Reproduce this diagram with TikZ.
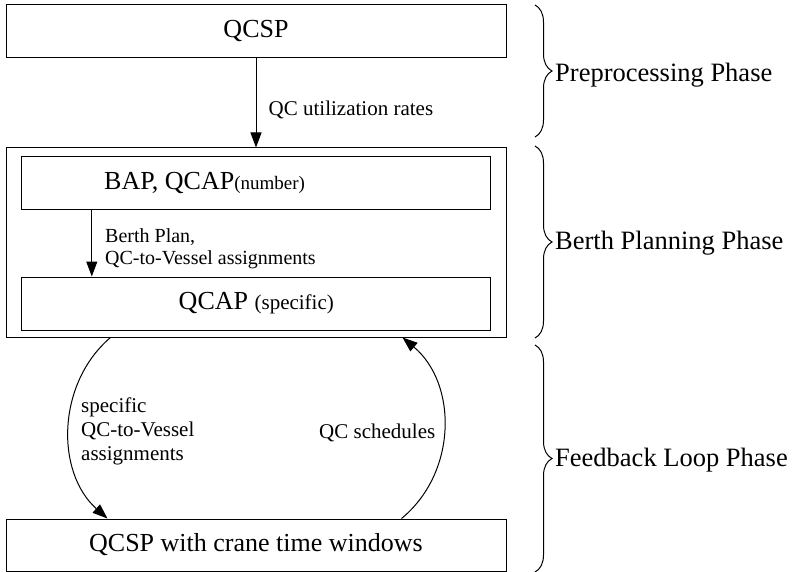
\documentclass[tikz,border=0pt]{standalone}
\usepackage{fontspec}
\setmainfont{Liberation Serif}
\usetikzlibrary{arrows.meta,decorations.pathreplacing}

\tikzset{
  box/.style={draw, line width=1pt, rectangle, inner sep=0pt, anchor=center,
              font=\fontsize{26}{30}\selectfont},
  flow/.style={line width=1pt, -{Triangle[length=15pt,width=11pt]}},
  lbl/.style={font=\fontsize{21}{24}\selectfont, inner sep=0pt, align=left},
  phase/.style={font=\fontsize{26.5}{30}\selectfont, inner sep=0pt, anchor=west},
  bracket/.style={line width=1pt, decorate,
                  decoration={brace, amplitude=17pt, aspect=0.5}},
}

\begin{document}
\begin{tikzpicture}[x=1pt, y=-1pt]
  \useasboundingbox (0,0) rectangle (794,572);

  % process boxes
  \node[box, minimum width=500pt, minimum height=53pt] (qcsp) at (256,31.5) {QCSP};
  \node[box, minimum width=500pt, minimum height=189pt] (berth) at (256,242.5) {};
  \node[box, minimum width=469pt, minimum height=52pt] (bap) at (256.3,183) {};
  \node[box, minimum width=469pt, minimum height=53pt] (qcap) at (256.3,303.5)
       {QCAP {\fontsize{21}{24}\selectfont(specific)}};
  \node[box, minimum width=500pt, minimum height=52pt] (qcspw) at (256,545)
       {QCSP with crane time windows};
  \node[font=\fontsize{26}{30}\selectfont, inner sep=0pt, anchor=west] (baptxt)
       at (104,183) {BAP, QCAP{\fontsize{19}{22}\selectfont(number)}};

  % connectors
  \draw[flow] (qcsp.south) -- (berth.north);
  \draw[flow] ([xshift=70.5pt]bap.south west) -- ([xshift=70.5pt]qcap.north west);
  \draw[flow] ([xshift=105pt]berth.south west)
       .. controls +(-54,46) and +(-52,-46) .. ([xshift=102pt]qcspw.north west);
  \draw[flow] ([xshift=396pt]qcspw.north west)
       .. controls +(56,-46) and +(55,46) .. ([xshift=397pt]berth.south west);

  % connector labels
  \node[lbl, anchor=west] (l1) at (268.5,110) {QC utilization rates};
  \node[lbl, anchor=west, font=\fontsize{20}{22}\selectfont] (l2) at (105,249)
       {Berth Plan,\\QC-to-Vessel assignments};
  \node[lbl, anchor=west] (l3) at (81,431) {specific\\QC-to-Vessel\\assignments};
  \node[lbl, anchor=east] (l4) at (435.5,433) {QC schedules};

  % phase brackets
  \draw[bracket] (535,5) -- (535,137);
  \node[phase] (p1) at (555,75) {Preprocessing Phase};
  \draw[bracket] (535,146) -- (535,338);
  \node[phase] (p2) at (555,243) {Berth Planning Phase};
  \draw[bracket] (535,345) -- (535,572);
  \node[phase] (p3) at (555,460) {Feedback Loop Phase};
\end{tikzpicture}
\end{document}
